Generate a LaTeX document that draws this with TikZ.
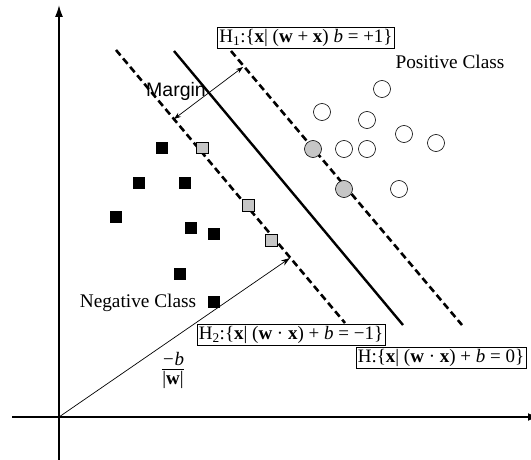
\documentclass[tikz,border=0pt]{standalone}
\usepackage{fontspec}
\setmainfont{Liberation Serif}
\newfontfamily\sansf{Liberation Sans}
\usetikzlibrary{arrows.meta}
\begin{document}
\begin{tikzpicture}[x=1pt,y=-1pt,
  negsq/.style={fill=black, draw=none, minimum size=12pt, inner sep=0pt},
  supsq/.style={fill=gray!45, draw=black, line width=0.5pt, minimum size=11.5pt, inner sep=0pt},
  poscirc/.style={circle, draw=black, line width=0.6pt, fill=white, minimum size=17pt, inner sep=0pt},
  supcirc/.style={circle, draw=black, line width=0.6pt, fill=gray!45, minimum size=17pt, inner sep=0pt},
  eqbox/.style={draw, line width=0.5pt, fill=white, inner sep=2pt, font=\fontsize{19}{21}\selectfont},
  lbl/.style={inner sep=0pt, font=\fontsize{19.3}{21}\selectfont},
  margline/.style={line width=2.6pt, dash pattern=on 7pt off 4pt},
  hypline/.style={line width=2.4pt},
  axis/.style={line width=1.6pt},
  thinarrow/.style={line width=0.7pt}
]
\useasboundingbox (0,0) rectangle (531,460);
\clip (0,0) rectangle (531,460);

% axes
\coordinate (O) at (59,417);
\coordinate (ytop) at (59,5);
\coordinate (ybot) at (59,462);
\coordinate (xleft) at (12,417);
\coordinate (xright) at (538,417);
\draw[axis,-{Latex[length=12pt,width=8pt]}] (ybot) -- (ytop);
\draw[axis,-{Latex[length=10pt,width=8pt]}] (xleft) -- (xright);

% hyperplanes
\coordinate (h2a) at (116,50);  \coordinate (h2b) at (345,323);
\coordinate (ha)  at (174,51);  \coordinate (hb)  at (403,325);
\coordinate (h1a) at (231,51);  \coordinate (h1b) at (462,325);
\draw[margline] (h2a) -- (h2b);
\draw[hypline] (ha) -- (hb);
\draw[margline] (h1a) -- (h1b);

% margin arrow
\coordinate (m2) at (174,119);
\coordinate (m1) at (243,67);
\draw[thinarrow,{Stealth[length=7pt,width=5pt]}-{Stealth[length=7pt,width=5pt]}] (m2) -- (m1);
\node[inner sep=0pt, font=\sansf\fontsize{19.5}{21}\selectfont] (margin) at (176,91) {Margin};

% w arrow
\coordinate (wend) at (290,258);
\draw[thinarrow,-{Stealth[length=9pt,width=6pt]}] (O) -- (wend);

% negative class
\node[negsq] (n1) at (162,148) {};
\node[negsq] (n2) at (139,183) {};
\node[negsq] (n3) at (185,183) {};
\node[negsq] (n4) at (116,217) {};
\node[negsq] (n5) at (191,228) {};
\node[negsq] (n6) at (214,234) {};
\node[negsq] (n7) at (180,274) {};
\node[negsq] (n8) at (214,302) {};
\node[supsq] (s1) at (202,148) {};
\node[supsq] (s2) at (248,205) {};
\node[supsq] (s3) at (271,240) {};

% positive class
\node[poscirc] (p1) at (382,89) {};
\node[poscirc] (p2) at (322,112) {};
\node[poscirc] (p3) at (367,120) {};
\node[poscirc] (p4) at (404,134) {};
\node[poscirc] (p5) at (436,143) {};
\node[poscirc] (p6) at (344,149) {};
\node[poscirc] (p7) at (367,149) {};
\node[poscirc] (p8) at (399,189) {};
\node[supcirc] (c1) at (313,149) {};
\node[supcirc] (c2) at (344,189) {};

% labels
\node[lbl] (pos) at (450,62) {Positive Class};
\node[lbl] (neg) at (138,303) {Negative Class};
\node[eqbox] (H1) at (306,38) {H\textsubscript{1}:\{\textbf{x}| (\textbf{w} + \textbf{x}) \textit{b} = +1\}};
\node[eqbox] (H2) at (291,335) {H\textsubscript{2}:\{\textbf{x}| (\textbf{w} · \textbf{x}) + \textit{b} = −1\}};
\node[eqbox] (H) at (441,358) {H:\{\textbf{x}| (\textbf{w} · \textbf{x}) + \textit{b} = 0\}};
\node[inner sep=0pt, font=\fontsize{19}{21}\selectfont] (frac) at (173,371)
  {\begin{tabular}{@{}c@{}}\textit{−b}\\[-3pt]\hline\rule{0pt}{15pt}|\textbf{w}|\end{tabular}};
\end{tikzpicture}
\end{document}
